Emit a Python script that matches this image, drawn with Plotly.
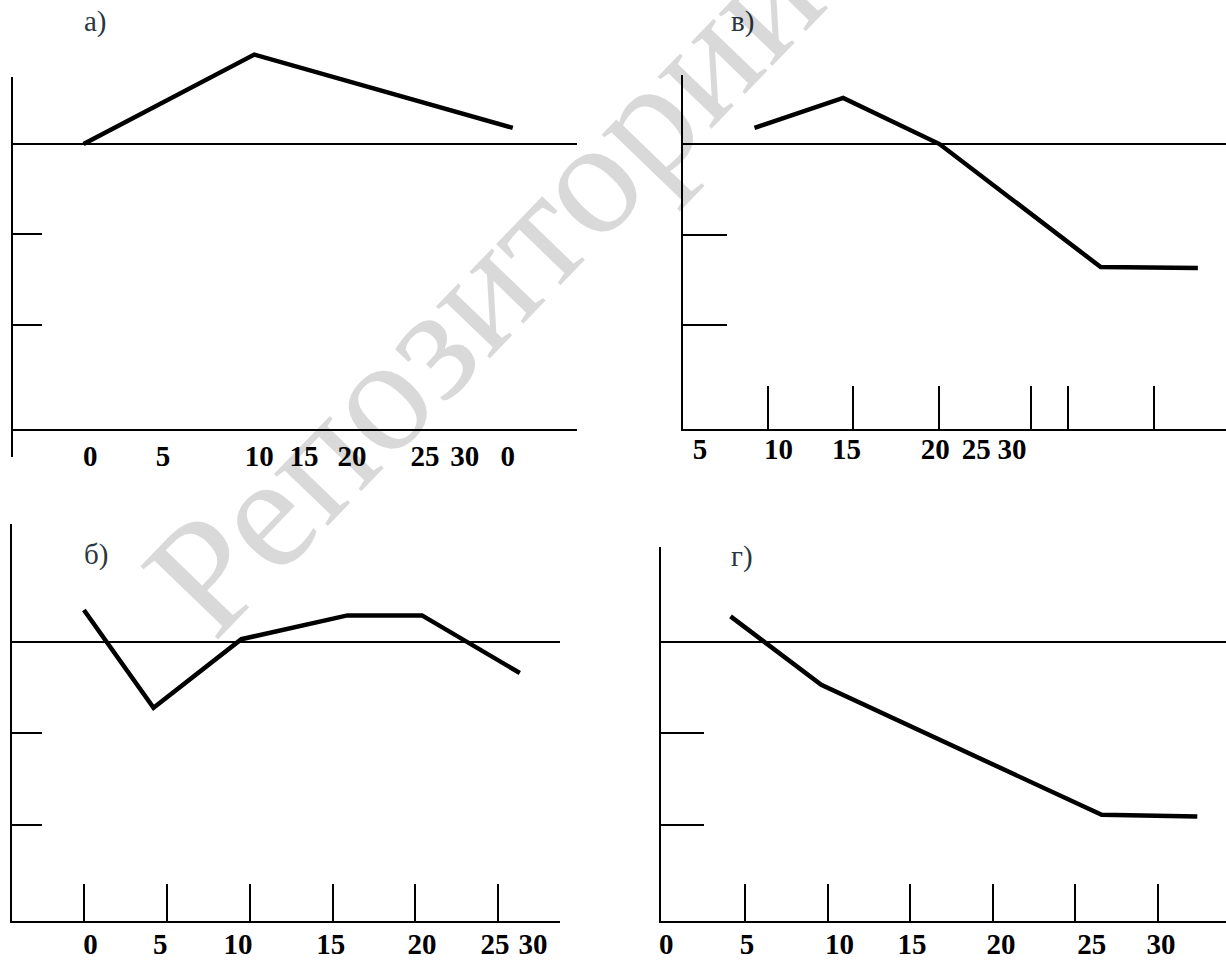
import plotly.graph_objects as go

W, H = 1226, 960

# ---------------- data (arbitrary units) ----------------
# panel а
a_x = [-0.2, 10.1, 25.7]
a_y = [0.0, 0.99, 0.18]
a_label_pos = [0.2, 4.6, 10.4, 13.1, 16.0, 20.4, 22.8, 25.4]
a_label_txt = ["0", "5", "10", "15", "20", "25", "30", "0"]

# panel в
v_x = [9.2, 14.4, 20.05, 29.5, 35.2]
v_y = [0.18, 0.51, 0.0, -1.36, -1.37]
v_ticks = [10, 15, 20, 25.4, 27.6, 32.6]
v_label_pos = [6.0, 10.6, 14.6, 19.8, 22.2, 24.3]
v_label_txt = ["5", "10", "15", "20", "25", "30"]

# panel б
b_x = [0.0, 4.2, 9.5, 15.9, 20.4, 26.3]
b_y = [0.35, -0.72, 0.03, 0.29, 0.29, -0.34]
b_ticks = [0, 5, 10, 15, 20, 25]
b_label_pos = [0.4, 4.6, 9.3, 14.9, 20.4, 24.8, 27.1]
b_label_txt = ["0", "5", "10", "15", "20", "25", "30"]

# panel г
g_x = [4.1, 9.6, 26.6, 32.4]
g_y = [0.28, -0.47, -1.89, -1.91]
g_ticks = [5, 10, 15, 20, 25, 30]
g_label_pos = [0.2, 5.1, 10.7, 15.1, 20.5, 26.0, 30.2]
g_label_txt = ["0", "5", "10", "15", "20", "25", "30"]

y_ticks = [-1, -2]
panel_titles = ["а)", "в)", "б)", "г)"]
watermark = "Репозиторий"

# ---------------- helpers ----------------
def px_x(p):
    return p / W

def px_y(p):
    return 1 - p / H

LINE = dict(color="black", width=4.5)
SERIF = "Liberation Serif, Times New Roman, serif"
tickfont = dict(family=SERIF, size=29, color="black", weight="bold")

fig = go.Figure()

series = [(a_x, a_y, "x", "y"), (v_x, v_y, "x2", "y2"),
          (b_x, b_y, "x3", "y3"), (g_x, g_y, "x4", "y4")]
for xs, ys, xa, ya in series:
    fig.add_trace(go.Scatter(x=xs, y=ys, mode="lines", line=LINE,
                             xaxis=xa, yaxis=ya, showlegend=False,
                             hoverinfo="skip"))

# invisible traces so that label-only / frame-only axes are drawn
for pos, xa, ya in [(v_label_pos, "x5", "y2"), (b_label_pos, "x6", "y3"),
                    (g_label_pos, "x7", "y4"), (a_label_pos, "x", "y8")]:
    fig.add_trace(go.Scatter(x=pos, y=[None] * len(pos), mode="lines",
                             xaxis=xa, yaxis=ya, showlegend=False,
                             hoverinfo="skip"))

def yax(domain, rng, ticklen, anchor):
    return dict(domain=domain, range=rng, anchor=anchor, showline=True,
                linecolor="black", linewidth=1.5, ticks="inside",
                tickvals=y_ticks, ticklen=ticklen, tickwidth=1.5,
                tickcolor="black", showticklabels=False, showgrid=False,
                zeroline=True, zerolinecolor="black", zerolinewidth=1.5,
                fixedrange=True)

def xax(domain, rng, anchor, ticks=None, ticklen=0, labels=None, **kw):
    d = dict(domain=domain, range=rng, anchor=anchor, showline=True,
             linecolor="black", linewidth=1.5, showgrid=False,
             zeroline=False, fixedrange=True)
    if ticks is not None:
        d.update(ticks="inside", tickvals=ticks, ticklen=ticklen,
                 tickwidth=1.5, tickcolor="black", showticklabels=False)
    elif labels is not None:
        d.update(ticks="", tickvals=labels[0], ticktext=labels[1],
                 tickfont=tickfont)
    d.update(kw)
    return d

def lab_ax(over, rng, anchor, pos, txt, standoff):
    return dict(overlaying=over, range=rng, anchor=anchor, side="bottom",
                showline=False, showgrid=False, zeroline=False, ticks="",
                tickvals=pos, ticktext=txt, tickfont=tickfont,
                fixedrange=True, ticklabelstandoff=standoff)

a_xr = [-4.46, 29.58]
v_xr = [5.0, 36.85]
b_xr = [-4.34, 28.73]
g_xr = [-0.12, 34.14]

fig.update_layout(
    width=W, height=H, margin=dict(l=0, r=0, t=0, b=0),
    paper_bgcolor="white", plot_bgcolor="rgba(0,0,0,0)",
    showlegend=False,
    # panel а: data axis (taller, hidden) + frame axis
    xaxis=xax([px_x(11), px_x(576)], a_xr, "free",
              labels=(a_label_pos, a_label_txt), position=px_y(433),
              ticklabelstandoff=0),
    yaxis=dict(domain=[px_y(460), px_y(40)], range=[-3.462, 1.154],
               anchor="x", visible=False, fixedrange=True),
    yaxis8=yax([px_y(460), px_y(77)], [-3.462, 0.747], 29, "x"),
    # panel в
    xaxis2=xax([px_x(682), 1.0], v_xr, "y2", ticks=v_ticks, ticklen=44),
    yaxis2=yax([px_y(432), px_y(75)], [-3.154, 0.769], 44, "x2"),
    # panel б
    xaxis3=xax([px_x(10), px_x(559)], b_xr, "y3", ticks=b_ticks, ticklen=37),
    yaxis3=yax([px_y(927), px_y(527)], [-3.054, 1.293], 30, "x3"),
    # panel г
    xaxis4=xax([px_x(660), 1.0], g_xr, "y4", ticks=g_ticks, ticklen=37),
    yaxis4=yax([px_y(927), px_y(550)], [-3.054, 1.043], 43, "x4"),
    # label-only axes
    xaxis5=lab_ax("x2", v_xr, "y2", v_label_pos, v_label_txt, 0),
    xaxis6=lab_ax("x3", b_xr, "y3", b_label_pos, b_label_txt, 3),
    xaxis7=lab_ax("x4", g_xr, "y4", g_label_pos, g_label_txt, 3),
)

title_pos = [(94, 22), (742, 22), (94, 558), (741, 560)]
for t, (px, py) in zip(panel_titles, title_pos):
    fig.add_annotation(text=t, x=px_x(px), y=px_y(py), xref="paper",
                       yref="paper", xanchor="center", yanchor="middle",
                       showarrow=False,
                       font=dict(family=SERIF, size=29, color="#2a3640"))

fig.add_annotation(text=watermark, x=px_x(482), y=px_y(288), xref="paper",
                   yref="paper", xanchor="center", yanchor="middle",
                   showarrow=False, textangle=-46,
                   font=dict(family=SERIF, size=163, color="rgba(0,0,0,0.15)"))

fig.write_html(
    "out.html",
    config={"displayModeBar": False},
    post_script="document.body.style.margin='0';"
                "document.body.style.overflow='hidden';"
                "document.documentElement.style.overflow='hidden';",
)
